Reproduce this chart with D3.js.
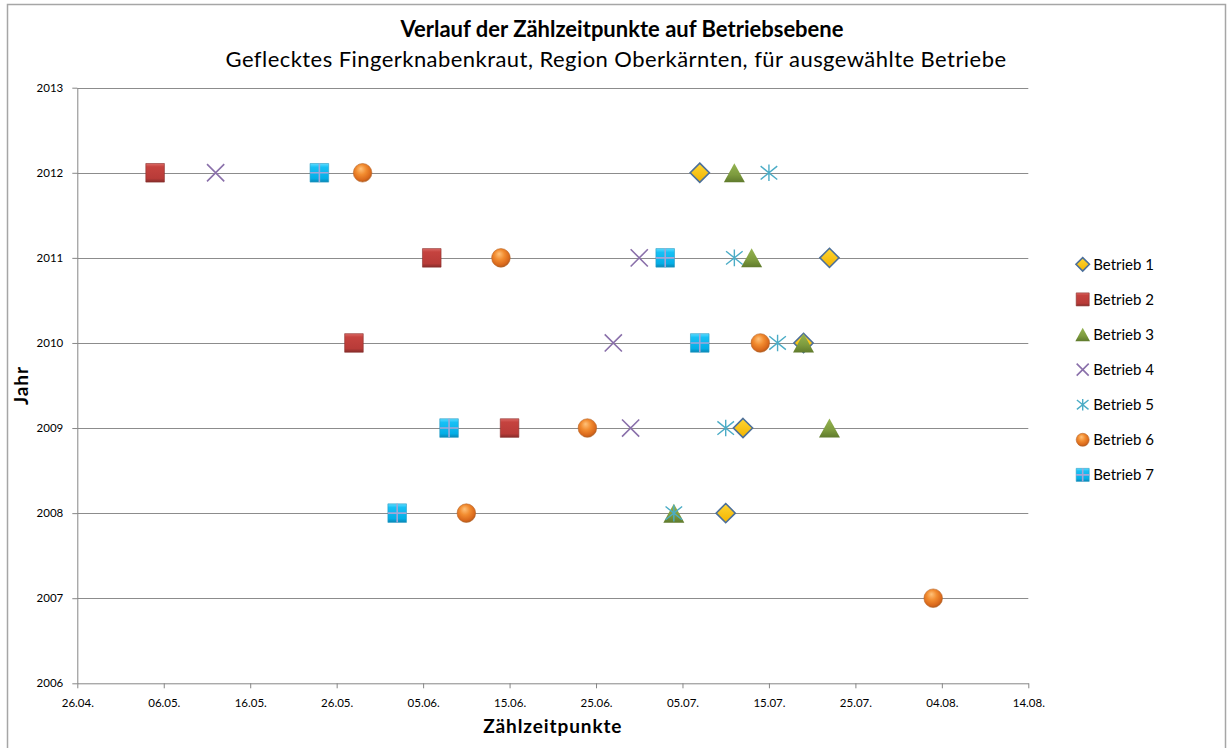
<!DOCTYPE html>
<html>
<head>
<meta charset="utf-8">
<script src="https://cdn.jsdelivr.net/npm/d3@7"></script>
<style>
  body { margin: 0; background: #fff; }
  text { font-family: Lato, "Open Sans", sans-serif; fill: #000; }
</style>
</head>
<body>
<div id="chart"></div>
<script>
// counting dates per farm, one entry per year in `years` (null = not counted)
var years    = [2012, 2011, 2010, 2009, 2008, 2007];
var betrieb1 = ["07.07.", "22.07.", "19.07.", "12.07.", "10.07.", null];
var betrieb2 = ["05.05.", "06.06.", "28.05.", "15.06.", null, null];
var betrieb3 = ["11.07.", "13.07.", "19.07.", "22.07.", "04.07.", null];
var betrieb4 = ["12.05.", "30.06.", "27.06.", "29.06.", null, null];
var betrieb5 = ["15.07.", "11.07.", "16.07.", "10.07.", "04.07.", null];
var betrieb6 = ["29.05.", "14.06.", "14.07.", "24.06.", "10.06.", "03.08."];
var betrieb7 = ["24.05.", "03.07.", "07.07.", "08.06.", "02.06.", null];

var seriesNames = ["Betrieb 1", "Betrieb 2", "Betrieb 3", "Betrieb 4", "Betrieb 5", "Betrieb 6", "Betrieb 7"];
var seriesData = [betrieb1, betrieb2, betrieb3, betrieb4, betrieb5, betrieb6, betrieb7];

var xTickLabels = ["26.04.", "06.05.", "16.05.", "26.05.", "05.06.", "15.06.",
                   "25.06.", "05.07.", "15.07.", "25.07.", "04.08.", "14.08."];
var yTicks = [2006, 2007, 2008, 2009, 2010, 2011, 2012, 2013];

var W = 1227, H = 748;
var plot = {left: 77.3, right: 1028.3, top: 87.7, bottom: 683.3};

var parseDay = d3.timeParse("%d.%m.%Y");
function toDate(s) { return parseDay(s + "2013"); }

var svg = d3.select("#chart").append("svg")
    .attr("width", W)
    .attr("height", H);

// gradients for the shaded markers
var defs = svg.append("defs");
function linGrad(id, stops) {
  var g = defs.append("linearGradient").attr("id", id)
    .attr("x1", 0).attr("y1", 0).attr("x2", 0).attr("y2", 1);
  stops.forEach(function (s) {
    g.append("stop").attr("offset", s[0]).attr("stop-color", s[1]);
  });
}
linGrad("gRed", [["0%", "#dc6a66"], ["18%", "#c5433f"], ["80%", "#b83b38"], ["100%", "#862c2a"]]);
linGrad("gCyan", [["0%", "#5fdcff"], ["20%", "#17c0f5"], ["80%", "#04aee6"], ["100%", "#0a86b4"]]);
linGrad("gGreen", [["0%", "#95b452"], ["60%", "#7d9b3e"], ["100%", "#5f7a2c"]]);
linGrad("gDiamond", [["0%", "#ffd633"], ["100%", "#f2b300"]]);
var rg = defs.append("radialGradient").attr("id", "gOrange")
  .attr("cx", "45%").attr("cy", "40%").attr("r", "60%")
  .attr("fx", "40%").attr("fy", "28%");
[["0%", "#ffc27a"], ["45%", "#f28c30"], ["85%", "#d9681b"], ["100%", "#b25a1d"]].forEach(function (s) {
  rg.append("stop").attr("offset", s[0]).attr("stop-color", s[1]);
});

// marker shapes, size = half width in px
var shapes = {
  diamond: {draw: function (c, r) { c.moveTo(0, -r); c.lineTo(r, 0); c.lineTo(0, r); c.lineTo(-r, 0); c.closePath(); }},
  square: {draw: function (c, r) { c.rect(-r, -r, 2 * r, 2 * r); }},
  triangle: {draw: function (c, r) { c.moveTo(0, -r * 0.95); c.lineTo(r * 1.05, r * 0.95); c.lineTo(-r * 1.05, r * 0.95); c.closePath(); }},
  times: {draw: function (c, r) { c.moveTo(-r, -r); c.lineTo(r, r); c.moveTo(-r, r); c.lineTo(r, -r); }},
  asterisk: {draw: function (c, r) {
    c.moveTo(0, -r); c.lineTo(0, r);
    c.moveTo(-r, -r * 0.8); c.lineTo(r, r * 0.8);
    c.moveTo(-r, r * 0.8); c.lineTo(r, -r * 0.8);
  }},
  circle: {draw: function (c, r) { c.moveTo(r, 0); c.arc(0, 0, r, 0, 2 * Math.PI); }},
  plus: {draw: function (c, r) { c.moveTo(0, -r); c.lineTo(0, r); c.moveTo(-r, 0); c.lineTo(r, 0); }}
};

var styles = [
  {shape: "diamond", fill: "url(#gDiamond)", stroke: "#4c6f99", sw: 1.6, r: 9.6},
  {shape: "square", fill: "url(#gRed)", stroke: "#8a302d", sw: 0.6, r: 9.3},
  {shape: "triangle", fill: "url(#gGreen)", stroke: "none", sw: 0, r: 10},
  {shape: "times", fill: "none", stroke: "#8a70aa", sw: 1.6, r: 8.6},
  {shape: "asterisk", fill: "none", stroke: "#4bacc6", sw: 1.4, r: 8.3},
  {shape: "circle", fill: "url(#gOrange)", stroke: "#b8692e", sw: 0.6, r: 9.3},
  {shape: "square", fill: "url(#gCyan)", stroke: "#2a9cc4", sw: 0.6, r: 9.3, plus: true}
];

function drawMarker(g, st, scale) {
  var r = st.r * scale;
  g.append("path")
    .attr("d", d3.symbol().type(shapes[st.shape]).size(r)())
    .attr("fill", st.fill)
    .attr("stroke", st.stroke)
    .attr("stroke-width", st.sw);
  if (st.plus) {
    g.append("path")
      .attr("d", d3.symbol().type(shapes.plus).size(r)())
      .attr("fill", "none")
      .attr("stroke", "#a3a6d6")
      .attr("stroke-width", 1.6);
  }
}

// chart border
svg.append("rect")
  .attr("x", 7.5).attr("y", 4.5)
  .attr("width", 1218).attr("height", 780)
  .attr("fill", "#fff")
  .attr("stroke", "#a6a6a6")
  .attr("stroke-width", 1.5);

// scales
var x = d3.scaleTime()
  .domain([toDate(xTickLabels[0]), toDate(xTickLabels[xTickLabels.length - 1])])
  .range([plot.left, plot.right]);
var y = d3.scaleLinear()
  .domain([2006, 2013])
  .range([plot.bottom, plot.top]);

// gridlines
svg.append("g")
  .selectAll("line")
  .data(yTicks.slice(1))
  .enter()
  .append("line")
    .attr("x1", plot.left).attr("x2", plot.right)
    .attr("y1", function (d) { return Math.round(y(d)) + 0.5; })
    .attr("y2", function (d) { return Math.round(y(d)) + 0.5; })
    .attr("stroke", "#8c8c8c")
    .attr("stroke-width", 1);

// Y axis
var yAxis = svg.append("g")
  .attr("transform", "translate(" + plot.left + ",0)")
  .call(d3.axisLeft(y).tickValues(yTicks).tickFormat(d3.format("d"))
    .tickSize(5).tickSizeOuter(0).tickPadding(9));

// X axis
var xAxis = svg.append("g")
  .attr("transform", "translate(0," + plot.bottom + ")")
  .call(d3.axisBottom(x).tickValues(xTickLabels.map(toDate))
    .tickFormat(d3.timeFormat("%d.%m.")).tickSize(5).tickSizeOuter(0).tickPadding(11));

[yAxis, xAxis].forEach(function (a) {
  a.selectAll("path, line").attr("stroke", "#868686");
  a.selectAll("text").style("font-size", "11.5px").attr("fill", "#000");
});

// points, series drawn in order so later ones sit on top
seriesData.forEach(function (data, i) {
  var pts = data.map(function (d, j) { return {date: d, year: years[j]}; })
    .filter(function (p) { return p.date; });
  svg.append("g")
    .selectAll("g")
    .data(pts)
    .enter()
    .append("g")
      .attr("transform", function (p) { return "translate(" + x(toDate(p.date)) + "," + y(p.year) + ")"; })
      .each(function () { drawMarker(d3.select(this), styles[i], 1); });
});

// legend
var legend = svg.append("g").attr("transform", "translate(1082.7,264.3)");
seriesNames.forEach(function (name, i) {
  var item = legend.append("g").attr("transform", "translate(0," + (i * 35.1) + ")");
  drawMarker(item, styles[i], 0.7);
  item.append("text")
    .attr("x", 10.5)
    .attr("dy", "0.36em")
    .style("font-size", "15px")
    .text(name);
});

// titles
svg.append("text")
  .attr("x", 622).attr("y", 37)
  .attr("text-anchor", "middle")
  .style("font-size", "22px").style("font-weight", "bold")
  .text("Verlauf der Zählzeitpunkte auf Betriebsebene");
svg.append("text")
  .attr("x", 616).attr("y", 67)
  .attr("text-anchor", "middle")
  .style("font-size", "22px")
  .style("letter-spacing", "0.45px")
  .text("Geflecktes Fingerknabenkraut, Region Oberkärnten, für ausgewählte Betriebe");

svg.append("text")
  .attr("x", (plot.left + plot.right) / 2).attr("y", 733)
  .attr("text-anchor", "middle")
  .style("font-size", "19px").style("font-weight", "bold")
  .style("letter-spacing", "0.9px")
  .text("Zählzeitpunkte");
svg.append("text")
  .attr("transform", "translate(28," + ((plot.top + plot.bottom) / 2) + ") rotate(-90)")
  .attr("text-anchor", "middle")
  .style("font-size", "19px").style("font-weight", "bold")
  .style("letter-spacing", "0.9px")
  .text("Jahr");
</script>
</body>
</html>
